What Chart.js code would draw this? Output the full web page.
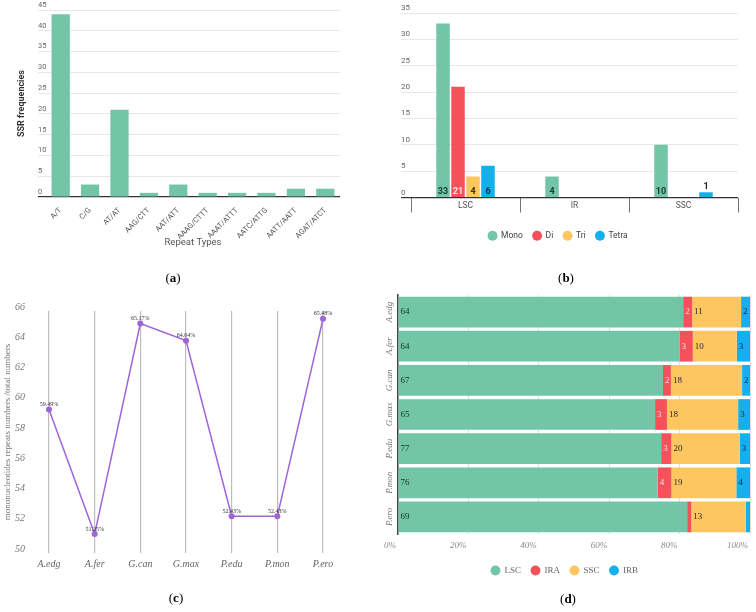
<!DOCTYPE html>
<html>
<head>
<meta charset="utf-8">
<script src="https://cdn.jsdelivr.net/npm/chart.js@4.4.0/dist/chart.umd.min.js"></script>
<style>
  body { margin: 0; background: #fff; width: 756px; height: 612px; position: relative; overflow: hidden; }
  canvas { position: absolute; }
  .tag { position: absolute; font: 13px "Liberation Serif", serif; color: #000; transform: translate(-50%, -50%); }
</style>
</head>
<body>
<canvas id="chartA" width="378" height="251" style="left:0;top:0"></canvas>
<canvas id="chartB" width="378" height="250" style="left:378px;top:0"></canvas>
<canvas id="chartC" width="378" height="345" style="left:0;top:260px"></canvas>
<canvas id="chartD" width="378" height="305" style="left:378px;top:280px"></canvas>
<div class="tag" style="left:173px;top:278px">(<b>a</b>)</div>
<div class="tag" style="left:566px;top:278px">(<b>b</b>)</div>
<div class="tag" style="left:176px;top:598px">(<b>c</b>)</div>
<div class="tag" style="left:568px;top:599px">(<b>d</b>)</div>
<script>
// (a) SSR frequencies by repeat type
const repeatTypes = ["A/T", "C/G", "AT/AT", "AAG/CTT", "AAT/ATT", "AAAG/CTTT", "AAAT/ATTT", "AATC/ATTG", "AATT/AATT", "AGAT/ATCT"];
const ssrFreq = [44, 3, 21, 1, 3, 1, 1, 1, 2, 2];

// (b) SSR types per region
const regions = ["LSC", "IR", "SSC"];
const monoCount = [33, 4, 10];
const diCount = [21, 0, 0];
const triCount = [4, 0, 0];
const tetraCount = [6, 0, 1];

// (c) mononucleotide ratio per species
const species = ["A.edg", "A.fer", "G.can", "G.max", "P.edu", "P.mon", "P.ero"];
const monoRatio = [59.49, 51.25, 65.17, 64.04, 52.43, 52.43, 65.48];

// (d) SSR counts per region, per species
const lscCount = [64, 64, 67, 65, 77, 76, 69];
const iraCount = [2, 3, 2, 3, 3, 4, 1];
const sscCount = [11, 10, 18, 18, 20, 19, 13];
const irbCount = [2, 3, 2, 3, 3, 4, 1];

const GREEN = "#72c6a7", RED = "#f4515b", YELLOW = "#fdc660", BLUE = "#14b0e9", PURPLE = "#a064d9";
const SANS = "Roboto", SERIF = "'Liberation Serif'";

Chart.defaults.animation = false;
Chart.defaults.responsive = false;

// ---------- (a) ----------
new Chart(document.getElementById("chartA"), {
    type: "bar",
    data: {
        labels: repeatTypes,
        datasets: [{ data: ssrFreq, backgroundColor: GREEN, barPercentage: 0.62, categoryPercentage: 1 }]
    },
    options: {
        layout: { padding: { left: 16, right: 38, top: 10, bottom: 0 } },
        plugins: { legend: { display: false }, tooltip: { enabled: false } },
        scales: {
            x: {
                grid: { display: false },
                border: { display: false },
                ticks: { font: { family: SANS, size: 7.5 }, color: "#555", minRotation: 45, maxRotation: 45, padding: 1 },
                title: { display: true, text: "Repeat Types", font: { family: SANS, size: 9.5 }, color: "#555", padding: { top: 0, bottom: 3 } },
                afterFit: s => { s.height = 54; }
            },
            y: {
                min: 0, max: 45,
                grid: {
                    color: c => (c.tick && c.tick.value === 0 ? "#333" : "#e8e8e8"),
                    lineWidth: c => (c.tick && c.tick.value === 0 ? 1.2 : 1),
                    tickLength: 8
                },
                border: { display: false },
                ticks: { stepSize: 5, mirror: true, padding: -8, labelOffset: -5, font: { family: SANS, size: 7.5 }, color: "#666" },
                title: { display: true, text: "SSR frequencies", font: { family: SANS, size: 9, weight: "bold" }, color: "#333", padding: 0 },
                afterFit: s => { s.width = 30; }
            }
        }
    }
});

// ---------- (b) ----------
const regionLabels = {
    id: "regionLabels",
    afterDatasetsDraw(chart) {
        const ctx = chart.ctx;
        ctx.save();
        ctx.font = "bold 9px " + SANS;
        ctx.textAlign = "center";
        ctx.textBaseline = "bottom";
        chart.data.datasets.forEach((ds, di) => {
            chart.getDatasetMeta(di).data.forEach((bar, i) => {
                const v = ds.data[i];
                if (!v) return;
                if (bar.base - bar.y > 12) {
                    ctx.fillStyle = ds.labelColor;
                    ctx.fillText(v, bar.x, bar.base - 1);
                } else {
                    ctx.fillStyle = "#222";
                    ctx.fillText(v, bar.x, bar.y - 1);
                }
            });
        });
        ctx.restore();
    }
};

new Chart(document.getElementById("chartB"), {
    type: "bar",
    data: {
        labels: regions,
        datasets: [
            { label: "Mono", data: monoCount, backgroundColor: GREEN, labelColor: "#143d30" },
            { label: "Di", data: diCount, backgroundColor: RED, labelColor: "#ffe3e3" },
            { label: "Tri", data: triCount, backgroundColor: YELLOW, labelColor: "#3d2c05" },
            { label: "Tetra", data: tetraCount, backgroundColor: BLUE, labelColor: "#0b2b45" }
        ]
    },
    options: {
        datasets: { bar: { categoryPercentage: 0.55, barPercentage: 0.9 } },
        layout: { padding: { left: 0, right: 18, top: 13, bottom: 0 } },
        plugins: {
            tooltip: { enabled: false },
            legend: {
                position: "bottom",
                labels: { usePointStyle: true, pointStyle: "circle", boxHeight: 7, padding: 10, font: { family: SANS, size: 8.5 }, color: "#444" }
            }
        },
        scales: {
            x: {
                grid: { drawOnChartArea: false, tickLength: 15, color: "#777" },
                border: { display: false },
                ticks: { font: { family: SANS, size: 8.5 }, color: "#555", padding: -12 },
                afterFit: s => { s.height = 24; }
            },
            y: {
                min: 0, max: 35,
                grid: {
                    color: c => (c.tick && c.tick.value === 0 ? "#333" : "#e8e8e8"),
                    lineWidth: c => (c.tick && c.tick.value === 0 ? 1.2 : 1),
                    tickLength: 10
                },
                border: { display: false },
                ticks: { stepSize: 5, mirror: true, padding: -10, labelOffset: -5, font: { family: SANS, size: 8 }, color: "#666" },
                afterFit: s => { s.width = 33; }
            }
        }
    },
    plugins: [regionLabels]
});

// ---------- (c) ----------
const pointLabels = {
    id: "pointLabels",
    afterDatasetsDraw(chart) {
        const ctx = chart.ctx;
        ctx.save();
        ctx.font = "6px " + SERIF;
        ctx.fillStyle = "#333";
        ctx.textAlign = "center";
        ctx.textBaseline = "bottom";
        chart.getDatasetMeta(0).data.forEach((pt, i) => {
            ctx.fillText(monoRatio[i].toFixed(2) + "%", pt.x, pt.y - 2);
        });
        ctx.restore();
    }
};

new Chart(document.getElementById("chartC"), {
    type: "line",
    data: {
        labels: species,
        datasets: [{
            data: monoRatio, borderColor: PURPLE, backgroundColor: PURPLE, borderWidth: 1.5,
            pointRadius: 3, pointBackgroundColor: PURPLE, pointBorderWidth: 0, tension: 0
        }]
    },
    options: {
        layout: { padding: { left: 0, right: 55, top: 51, bottom: 0 } },
        plugins: { legend: { display: false }, tooltip: { enabled: false } },
        scales: {
            x: {
                offset: false,
                grid: { color: "#bdbdbd", lineWidth: 1.2, drawTicks: false },
                border: { display: false },
                ticks: { font: { family: SERIF, size: 10, style: "italic" }, color: "#666", padding: 5 },
                afterFit: s => { s.height = 52; }
            },
            y: {
                min: 50, max: 66,
                grid: { display: false, drawTicks: false },
                border: { display: false },
                ticks: { stepSize: 2, padding: 24, labelOffset: -4, font: { family: SERIF, size: 10, style: "italic" }, color: "#777" },
                title: { display: true, text: "mononucleotides repeats numbers /total numbers", font: { family: SERIF, size: 9 }, color: "#777", padding: { top: 2, bottom: 0 } },
                afterFit: s => { s.width = 49; }
            }
        }
    },
    plugins: [pointLabels]
});

// ---------- (d) ----------
const totals = species.map((_, i) => lscCount[i] + iraCount[i] + sscCount[i] + irbCount[i]);
const toPct = arr => arr.map((v, i) => v / totals[i] * 100);

const segmentLabels = {
    id: "segmentLabels",
    afterDatasetsDraw(chart) {
        const ctx = chart.ctx;
        ctx.save();
        ctx.font = "9px " + SERIF;
        ctx.textAlign = "left";
        ctx.textBaseline = "middle";
        chart.data.datasets.forEach((ds, di) => {
            chart.getDatasetMeta(di).data.forEach((bar, i) => {
                const v = ds.counts[i];
                if (v < 2) return;
                ctx.fillStyle = ds.labelColor;
                ctx.fillText(v, Math.min(bar.x, bar.base) + 2, bar.y);
            });
        });
        ctx.restore();
    }
};

new Chart(document.getElementById("chartD"), {
    type: "bar",
    data: {
        labels: species,
        datasets: [
            { label: "LSC", data: toPct(lscCount), counts: lscCount, backgroundColor: GREEN, labelColor: "#15342a" },
            { label: "IRA", data: toPct(iraCount), counts: iraCount, backgroundColor: RED, labelColor: "#ffe0e0" },
            { label: "SSC", data: toPct(sscCount), counts: sscCount, backgroundColor: YELLOW, labelColor: "#2a2a2a" },
            { label: "IRB", data: toPct(irbCount), counts: irbCount, backgroundColor: BLUE, labelColor: "#0d2740" }
        ]
    },
    options: {
        indexAxis: "y",
        datasets: { bar: { categoryPercentage: 1, barPercentage: 0.9 } },
        layout: { padding: { left: 0, right: 5, top: 15, bottom: 0 } },
        plugins: {
            tooltip: { enabled: false },
            legend: {
                position: "bottom",
                labels: { usePointStyle: true, pointStyle: "circle", boxHeight: 7, padding: 10, font: { family: SERIF, size: 9 }, color: "#666" }
            }
        },
        scales: {
            x: {
                stacked: true, min: 0, max: 100,
                grid: { color: "#dedede", drawTicks: false },
                border: { display: false },
                ticks: { stepSize: 20, align: "end", labelOffset: -2, padding: 6, callback: v => v + "%", font: { family: SERIF, size: 9, style: "italic" }, color: "#888" },
                afterFit: s => { s.height = 22; }
            },
            y: {
                stacked: true,
                grid: { display: false, drawTicks: false },
                border: { display: true, color: "#444", width: 1.5 },
                ticks: { minRotation: 90, maxRotation: 90, crossAlign: "center", padding: -4, font: { family: SERIF, size: 9, style: "italic" }, color: "#777" },
                afterFit: s => { s.width = 20; }
            }
        }
    },
    plugins: [segmentLabels]
});
</script>
</body>
</html>
